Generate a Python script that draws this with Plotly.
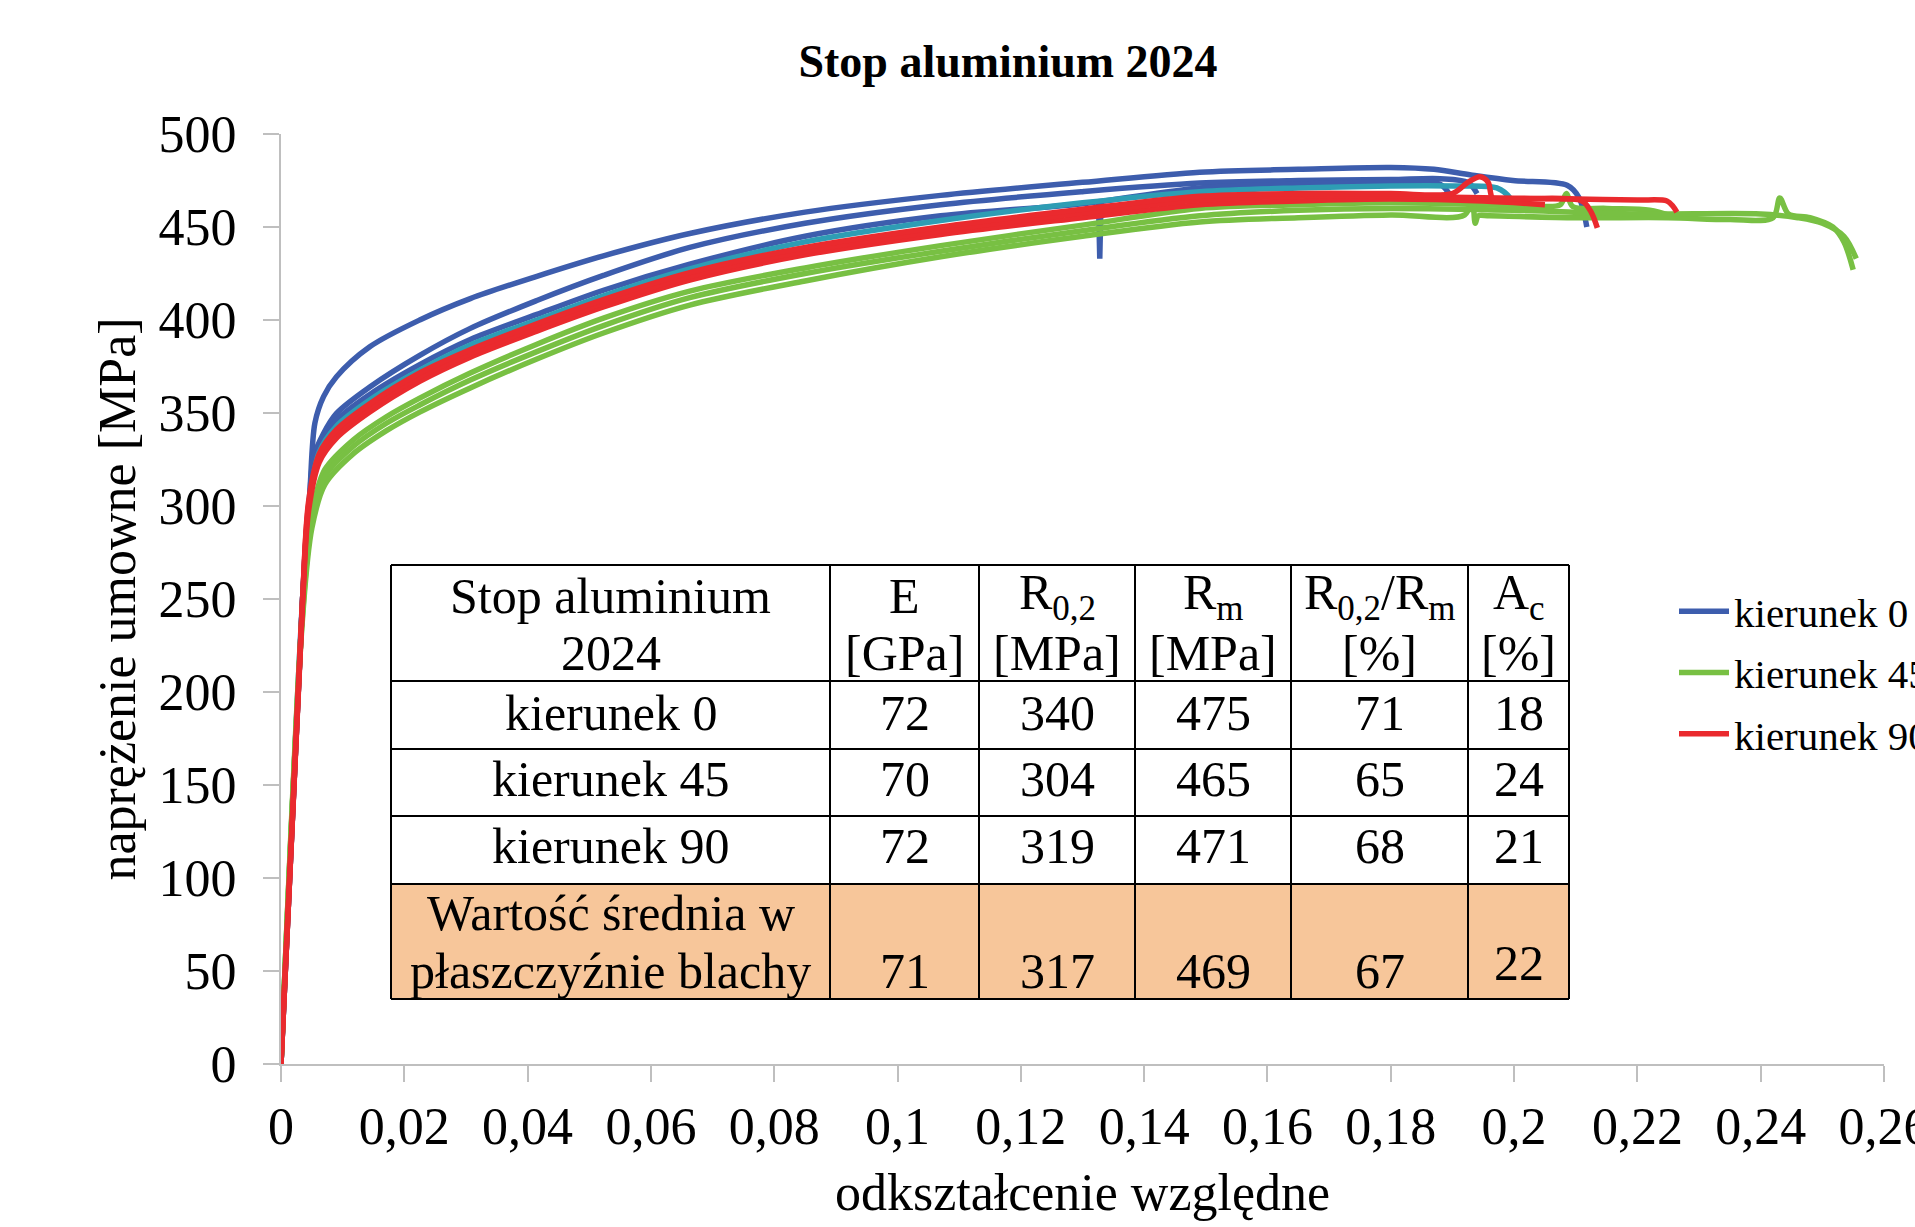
import plotly.graph_objects as go

# ---------------- data ----------------
# strain (odkształcenie względne) and stress (MPa)
b1_strain = [0, 0.0035, 0.0042, 0.0047, 0.0055, 0.0069, 0.009, 0.0144, 0.0225, 0.0307, 0.0415, 0.0523, 0.0663, 0.085, 0.107, 0.13, 0.149, 0.165, 0.18, 0.187, 0.193, 0.1998, 0.2086, 0.2105, 0.2118]
b1_stress = [0, 250, 285, 308.6, 344.6, 358.8, 369.5, 385.6, 400, 411.5, 423.5, 434.5, 446.5, 458, 467, 474, 479.5, 481, 482, 481, 478, 475, 472.5, 466, 450]

b2_strain = [0, 0.0035, 0.0045, 0.0053, 0.0069, 0.009, 0.0144, 0.0225, 0.0307, 0.0415, 0.0523, 0.0663, 0.085, 0.107, 0.13, 0.149, 0.165, 0.18, 0.188, 0.1925, 0.194]
b2_stress = [0, 250, 295, 326.5, 339, 349.8, 364, 381, 395.5, 410.5, 424, 439, 452, 462, 469, 473.6, 475, 475.5, 476, 474, 468]

b3_strain = [0, 0.0035, 0.0045, 0.0062, 0.009, 0.0144, 0.0225, 0.0307, 0.0415, 0.0523, 0.0663, 0.085, 0.107, 0.13, 0.149, 0.165, 0.18, 0.188, 0.19]
b3_stress = [0, 250, 300, 331, 346, 360, 376, 389.5, 403, 416, 430, 445, 456, 462.5, 471, 473, 474, 473, 465]

# short load drop visible on the kierunek 0 curve near 0.133
b3_drop_strain = [0.1326, 0.1328, 0.133]
b3_drop_stress = [463, 433, 463]

teal_strain = [0, 0.0035, 0.0045, 0.0062, 0.009, 0.0144, 0.0225, 0.0307, 0.0415, 0.0523, 0.0663, 0.085, 0.107, 0.13, 0.149, 0.165, 0.18, 0.19, 0.1972, 0.1995, 0.2002]
teal_stress = [0, 250, 299, 329, 343, 357, 373, 386.5, 400, 413, 427.5, 442, 453.5, 463, 469, 471, 472, 472, 471, 465, 459]

g1_strain = [0, 0.0035, 0.005, 0.0071, 0.0117, 0.0171, 0.0225, 0.0307, 0.0415, 0.0523, 0.0663, 0.085, 0.107, 0.13, 0.149, 0.165, 0.18, 0.195, 0.205, 0.2075, 0.2085, 0.2095, 0.215, 0.222, 0.2255]
g1_stress = [0, 245, 296, 319.5, 335.5, 348, 358, 371.5, 387, 401, 415.5, 428, 440, 451, 460, 462, 463, 462, 461, 462, 468, 461, 460, 459, 456]

g2_strain = [0, 0.0035, 0.005, 0.0071, 0.0117, 0.0171, 0.0225, 0.0307, 0.0415, 0.0523, 0.0663, 0.085, 0.107, 0.13, 0.149, 0.165, 0.18, 0.192, 0.1932, 0.1937, 0.1942, 0.196, 0.21, 0.225, 0.235, 0.242, 0.2431, 0.2445, 0.248, 0.2517, 0.2535, 0.255]
g2_stress = [0, 240, 288, 311.5, 328, 340.5, 350.5, 363.5, 379, 393, 408, 421, 434, 445, 452.7, 455, 456.5, 456.5, 465, 452, 456, 456, 455, 455, 454, 455, 465.6, 457, 455, 450, 442, 427]

g3_strain = [0, 0.0035, 0.005, 0.0071, 0.0117, 0.0171, 0.0225, 0.0307, 0.0415, 0.0523, 0.0663, 0.085, 0.107, 0.13, 0.149, 0.165, 0.18, 0.2, 0.22, 0.24, 0.246, 0.25, 0.2535, 0.2555]
g3_stress = [0, 242, 292.5, 315.8, 332, 344.5, 354.3, 367.7, 383, 397, 412, 425, 437, 448, 456, 459, 460, 459, 457, 457, 455, 452, 445, 433]

r1_strain = [0, 0.0035, 0.0045, 0.0062, 0.009, 0.0144, 0.0225, 0.0307, 0.0415, 0.0523, 0.0663, 0.085, 0.107, 0.13, 0.149, 0.165, 0.18, 0.19, 0.1925, 0.1945, 0.1958, 0.1966, 0.2, 0.211, 0.2125, 0.2135]
r1_stress = [0, 250, 303, 328, 341, 355, 371.5, 384, 398, 411, 425.5, 439, 450, 459.5, 466.5, 468, 468, 468, 474, 477, 474, 465, 465, 464, 458, 449.5]

r2_strain = [0, 0.0035, 0.0045, 0.0062, 0.009, 0.0144, 0.0225, 0.0307, 0.0415, 0.0523, 0.0663, 0.085, 0.107, 0.13, 0.149, 0.165, 0.18, 0.19, 0.2, 0.21, 0.22, 0.2248, 0.2258, 0.2264]
r2_stress = [0, 250, 301, 326, 339, 353, 369.5, 382, 396, 409, 423.5, 437, 448, 457.5, 464.5, 466.5, 467, 466, 465.5, 465, 464.5, 464, 461, 458]

r3_strain = [0, 0.0035, 0.0045, 0.0062, 0.009, 0.0144, 0.0225, 0.0307, 0.0415, 0.0523, 0.0663, 0.085, 0.107, 0.13, 0.149, 0.165, 0.18, 0.195, 0.205]
r3_stress = [0, 248, 298, 323.5, 336.5, 350.5, 367, 380, 394, 407, 421.5, 435, 446, 455, 462, 464, 465, 464, 462]

legend_names = ["kierunek 0", "kierunek 45", "kierunek 90"]

x_tickvals = [0, 0.02, 0.04, 0.06, 0.08, 0.1, 0.12, 0.14, 0.16, 0.18, 0.2, 0.22, 0.24, 0.26]
x_ticktext = ["0", "0,02", "0,04", "0,06", "0,08", "0,1", "0,12", "0,14", "0,16", "0,18", "0,2", "0,22", "0,24", "0,26"]
y_tickvals = [0, 50, 100, 150, 200, 250, 300, 350, 400, 450, 500]

# table contents
table_header_line1 = ["Stop aluminium", "E", "R<sub>0,2</sub>", "R<sub>m</sub>", "R<sub>0,2</sub>/R<sub>m</sub>", "A<sub>c</sub>"]
table_header_line2 = ["2024", "[GPa]", "[MPa]", "[MPa]", "[%]", "[%]"]
table_directions = ["kierunek 0", "kierunek 45", "kierunek 90"]
table_E = [72, 70, 72]
table_R02 = [340, 304, 319]
table_Rm = [475, 465, 471]
table_ratio = [71, 65, 68]
table_Ac = [18, 24, 21]
mean_label_lines = ["Wartość średnia w", "płaszczyźnie blachy"]
mean_values = [71, 317, 469, 67, 22]

# ---------------- style ----------------
FONT = "Liberation Serif"
BLUE = "#3D5DAD"
TEAL = "#2E9DB4"
GREEN = "#78C043"
RED = "#EA2A2E"
LW = 5.5

W, H = 1915, 1227
L, R, T, B = 281, 31, 134, 163
PW = W - L - R
PH = H - T - B


def xp(px):
    return (px - L) / PW


def yp(py):
    return (H - B - py) / PH


fig = go.Figure()

curves = [
    (b1_strain, b1_stress, BLUE, "k0", True, "spline"),
    (b2_strain, b2_stress, BLUE, "k0", False, "spline"),
    (b3_strain, b3_stress, BLUE, "k0", False, "spline"),
    (b3_drop_strain, b3_drop_stress, BLUE, "k0", False, "linear"),
    (teal_strain, teal_stress, TEAL, "k0", False, "spline"),
    (g1_strain, g1_stress, GREEN, "k45", True, "spline"),
    (g2_strain, g2_stress, GREEN, "k45", False, "spline"),
    (g3_strain, g3_stress, GREEN, "k45", False, "spline"),
    (r3_strain, r3_stress, RED, "k90", False, "spline"),
    (r2_strain, r2_stress, RED, "k90", False, "spline"),
    (r1_strain, r1_stress, RED, "k90", True, "spline"),
]
name_map = {"k0": legend_names[0], "k45": legend_names[1], "k90": legend_names[2]}
rank = {"k0": 1, "k45": 2, "k90": 3}
for xs, ys, col, grp, show, shp in curves:
    line = dict(color=col, width=LW, shape=shp)
    if shp == "spline":
        line["smoothing"] = 0.9
    fig.add_trace(go.Scatter(
        x=xs, y=ys, mode="lines", name=name_map[grp], legendgroup=grp,
        legendrank=rank[grp], showlegend=show, line=line,
    ))

# ---------------- table (shapes + annotations) ----------------
col_edges = [391, 830, 979, 1135, 1291, 1468, 1569]
row_edges = [565, 681, 749, 816, 884, 999]
col_centers = [(col_edges[i] + col_edges[i + 1]) / 2 for i in range(6)]

shapes = []
shapes.append(dict(type="rect", xref="paper", yref="paper",
                   x0=xp(col_edges[0]), x1=xp(col_edges[-1]),
                   y0=yp(row_edges[4]), y1=yp(row_edges[0]),
                   fillcolor="white", line=dict(width=0), layer="below"))
shapes.append(dict(type="rect", xref="paper", yref="paper",
                   x0=xp(col_edges[0]), x1=xp(col_edges[-1]),
                   y0=yp(row_edges[5]), y1=yp(row_edges[4]),
                   fillcolor="#F7C69A", line=dict(width=0), layer="below"))
for ry in row_edges:
    shapes.append(dict(type="line", xref="paper", yref="paper",
                       x0=xp(col_edges[0]), x1=xp(col_edges[-1]), y0=yp(ry), y1=yp(ry),
                       line=dict(color="black", width=2), layer="above"))
for cx in col_edges:
    shapes.append(dict(type="line", xref="paper", yref="paper",
                       x0=xp(cx), x1=xp(cx), y0=yp(row_edges[0]), y1=yp(row_edges[-1]),
                       line=dict(color="black", width=2), layer="above"))

annotations = []
TF = dict(family=FONT, size=50, color="black")


def cell_text(txt, cx, cy):
    annotations.append(dict(text=str(txt), xref="paper", yref="paper",
                            x=xp(cx), y=yp(cy), xanchor="center", yanchor="middle",
                            showarrow=False, font=TF))


for i in range(6):
    cell_text(table_header_line1[i], col_centers[i], 596)
    cell_text(table_header_line2[i], col_centers[i], 653)

row_y = [713, 779, 846]
for r in range(3):
    vals = [table_directions[r], table_E[r], table_R02[r], table_Rm[r], table_ratio[r], table_Ac[r]]
    for i in range(6):
        cell_text(vals[i], col_centers[i], row_y[r])

cell_text(mean_label_lines[0], col_centers[0], 913)
cell_text(mean_label_lines[1], col_centers[0], 971)
for i in range(5):
    cell_text(mean_values[i], col_centers[i + 1], 971 if i < 4 else 963)

axis_common = dict(
    showline=True, linecolor="#BFBFBF", linewidth=2,
    ticks="outside", ticklen=16, tickwidth=2, tickcolor="#BFBFBF",
    showgrid=False, zeroline=False, ticklabeloverflow="allow",
    tickfont=dict(family=FONT, size=52, color="black"),
)

fig.update_layout(
    width=W, height=H,
    margin=dict(l=L, r=R, t=T, b=B, autoexpand=False),
    paper_bgcolor="white", plot_bgcolor="white",
    font=dict(family=FONT, color="black"),
    title=dict(text="Stop aluminium 2024", x=1008 / W, xref="container", xanchor="center",
               y=1 - 61 / H, yref="container", yanchor="middle",
               font=dict(family=FONT, size=46, color="black", weight="bold")),
    xaxis=dict(range=[0, 0.26], tickvals=x_tickvals, ticktext=x_ticktext,
               ticklabelstandoff=0,
               title=dict(text="odkształcenie względne", standoff=19,
                          font=dict(family=FONT, size=52, color="black")),
               **axis_common),
    yaxis=dict(range=[0, 500], tickvals=y_tickvals, ticklabelstandoff=16,
               title=dict(text="naprężenie umowne [MPa]", standoff=6,
                          font=dict(family=FONT, size=52, color="black")),
               **axis_common),
    legend=dict(x=xp(1674), y=yp(578), xanchor="left", yanchor="top",
                traceorder="grouped", tracegroupgap=5, itemwidth=50,
                font=dict(family=FONT, size=41, color="black"),
                bgcolor="rgba(0,0,0,0)", borderwidth=0),
    shapes=shapes,
    annotations=annotations,
)

fig.write_html("out.html")
